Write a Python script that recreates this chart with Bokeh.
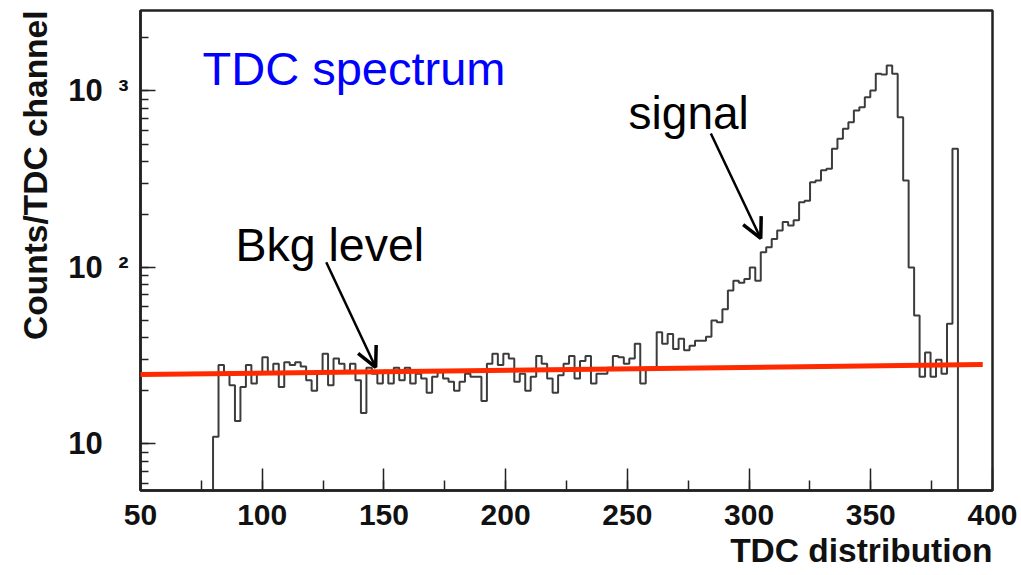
import numpy as np
from bokeh.plotting import figure
from bokeh.models import (Range1d, LogTicker, SingleIntervalTicker, Label,
                          Arrow, OpenHead, Title)
from bokeh.embed import file_html
from bokeh.resources import INLINE

# ---------------- data ----------------
bin_start = 79.8
bin_width = 2.25
counts = [
    11, 28, 25, 21.5, 13.5, 21, 28, 22, 25, 31,
    25, 28.5, 21, 29, 28, 29, 27.5, 23, 20, 25,
    32.5, 21.5, 30.5, 28.5, 26, 28.5, 23, 15, 27, 25,
    22, 26, 22, 27, 23, 27, 22, 25, 23.5, 19.5,
    24, 25.5, 23.5, 22.5, 20, 22.5, 25, 24, 24, 17.5,
    28.5, 32.5, 28, 32.5, 30.5, 22.5, 25, 20, 24, 31.5,
    28.5, 23.5, 19.5, 24.5, 28.5, 31.5, 23.5, 29.5, 31.5, 22,
    25, 25, 27, 31.5, 31, 28.5, 30.5, 37, 22, 27,
    27, 43, 37, 42, 34.5, 39.5, 34, 36, 38.5, 38.5,
    40.5, 50, 49, 58, 74, 84, 82, 86, 100, 84,
    122, 130, 145, 162, 181, 173, 185, 234, 239, 304,
    311, 355, 363, 470, 536, 611, 666, 776, 810, 922,
    1007, 1251, 1240, 1396, 1251, 711, 311, 100, 53.5, 24,
    33, 24, 30, 25, 48, 470,
]
x_tick_values = [50, 100, 150, 200, 250, 300, 350, 400]
y_tick_labels = {10: "10\u2002\u2004", 100: "10\u2002²", 1000: "10\u2002³"}
bkg_x = [47.1, 396.0]
bkg_y = [24.7, 28.2]

# ---------------- styles ----------------
FONT = "Liberation Sans"
floor_value = 1.0

edges = bin_start + bin_width * np.arange(len(counts) + 1)
xs = np.repeat(edges, 2)
ys = np.concatenate([[floor_value], np.repeat(counts, 2), [floor_value]])

p = figure(width=1021, height=575,
           x_range=Range1d(50, 400), y_range=Range1d(5.45, 2858),
           y_axis_type="log", output_backend="svg", toolbar_location=None,
           min_border_left=140, min_border_right=29,
           min_border_top=10, min_border_bottom=85)
p.grid.visible = False
p.background_fill_color = "white"
p.border_fill_color = "white"
p.outline_line_color = "#222222"
p.outline_line_width = 2.5

# histogram outline
p.line(xs, ys, line_color="#3c3c3c", line_width=2)

# background level line
p.add_layout(Arrow(end=None, x_start=bkg_x[0], y_start=bkg_y[0],
                   x_end=bkg_x[1], y_end=bkg_y[1],
                   line_color="#ff2a00", line_width=5))

# x axis
xa = p.xaxis[0]
xa.ticker = SingleIntervalTicker(interval=50, num_minor_ticks=2)
xa.major_tick_in = 22
xa.major_tick_out = 0
xa.minor_tick_in = 10
xa.minor_tick_out = 0
xa.major_tick_line_color = "#222222"
xa.minor_tick_line_color = "#222222"
xa.major_tick_line_width = 1.5
xa.minor_tick_line_width = 1.5
xa.axis_line_color = "#222222"
xa.axis_line_width = 2.5
xa.major_label_text_font = FONT
xa.major_label_text_font_style = "bold"
xa.major_label_text_font_size = "30px"
xa.major_label_text_color = "#111111"
xa.major_label_standoff = 14

# y axis
ya = p.yaxis[0]
ya.ticker = LogTicker(num_minor_ticks=10)
ya.major_label_overrides = y_tick_labels
ya.major_tick_in = 15
ya.major_tick_out = 0
ya.minor_tick_in = 8
ya.minor_tick_out = 0
ya.major_tick_line_color = "#222222"
ya.minor_tick_line_color = "#222222"
ya.major_tick_line_width = 1.5
ya.minor_tick_line_width = 1.5
ya.axis_line_color = "#222222"
ya.axis_line_width = 2.5
ya.major_label_text_font = FONT
ya.major_label_text_font_style = "bold"
ya.major_label_text_font_size = "31px"
ya.major_label_text_color = "#111111"
ya.major_label_standoff = 12

# axis titles
p.add_layout(Title(text="Counts/TDC channel", align="right",
                   vertical_align="top",
                   text_font=FONT, text_font_style="bold",
                   text_font_size="33.5px", text_color="#111111",
                   standoff=20), "left")
p.add_layout(Title(text="TDC distribution", align="right",
                   text_font=FONT, text_font_style="bold",
                   text_font_size="33.5px", text_color="#111111",
                   standoff=4), "below")

# annotations
p.add_layout(Label(x=75.5, y=1340, text="TDC spectrum", text_color="#0000ff",
                   text_font=FONT, text_font_size="47px",
                   text_baseline="alphabetic"))
p.add_layout(Label(x=250.5, y=755, text="signal", text_color="black",
                   text_font=FONT, text_font_size="46px",
                   text_baseline="alphabetic"))
p.add_layout(Label(x=89.0, y=133.4, text="Bkg level", text_color="black",
                   text_font=FONT, text_font_size="46.5px",
                   text_baseline="alphabetic"))

p.add_layout(Arrow(end=OpenHead(size=20, line_width=3.5, line_color="black"),
                   x_start=126.3, y_start=107, x_end=146.6, y_end=27.2,
                   line_color="black", line_width=2.5))
p.add_layout(Arrow(end=OpenHead(size=20, line_width=3.5, line_color="black"),
                   x_start=284.3, y_start=574, x_end=304.8, y_end=146,
                   line_color="black", line_width=2.5))

open("out.html", "w").write(file_html(p, INLINE))
